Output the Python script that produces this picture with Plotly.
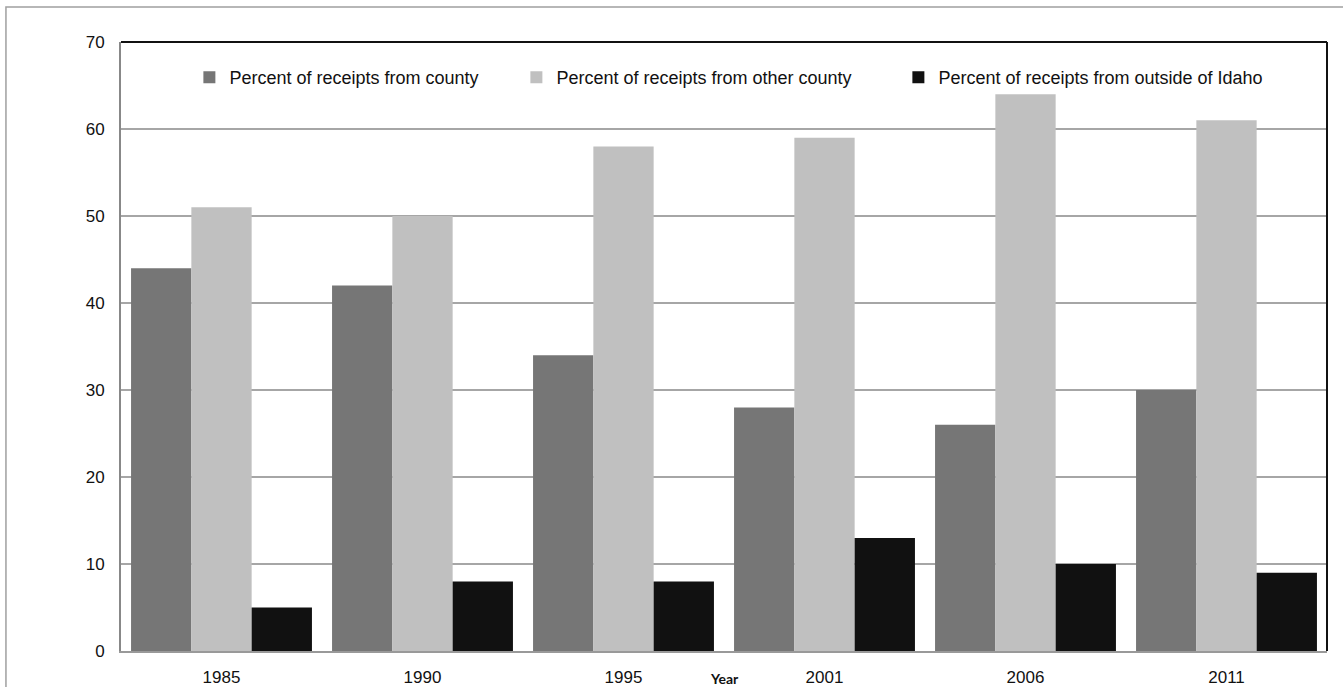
import plotly.graph_objects as go

years = ["1985", "1990", "1995", "2001", "2006", "2011"]
from_county = [44, 42, 34, 28, 26, 30]
from_other_county = [51, 50, 58, 59, 64, 61]
from_outside_idaho = [5, 8, 8, 13, 10, 9]

series_names = [
    "Percent of receipts from county",
    "Percent of receipts from other county",
    "Percent of receipts from outside of Idaho",
]
series_values = [from_county, from_other_county, from_outside_idaho]
series_colors = ["#767676", "#c0c0c0", "#111111"]
entry_widths = [282, 337, 345]

fig = go.Figure()
for name, vals, color, w in zip(series_names, series_values, series_colors, entry_widths):
    fig.add_trace(go.Bar(
        x=years, y=vals, name=name,
        marker=dict(color=color, line=dict(width=0)),
        legendwidth=w,
    ))

font_main = "Liberation Sans, Arial, sans-serif"

fig.update_layout(
    width=1343, height=687,
    margin=dict(l=121, r=16, t=42, b=36),
    paper_bgcolor="white", plot_bgcolor="white",
    barmode="group", bargap=0.1, bargroupgap=0,
    font=dict(family=font_main, size=17, color="#111111"),
    showlegend=True,
    legend=dict(
        orientation="h", x=0.0567, xanchor="left", y=0.972, yanchor="top",
        font=dict(family=font_main, size=18, color="#111111"),
        bgcolor="rgba(0,0,0,0)", borderwidth=0,
        itemwidth=30, traceorder="normal",
    ),
    xaxis=dict(
        showline=True, linecolor="#999999", linewidth=2,
        ticks="", ticklabelstandoff=10,
        tickfont=dict(size=17),
        showgrid=False, zeroline=False, automargin=False,
    ),
    yaxis=dict(
        range=[0, 70], dtick=10, tick0=0,
        showline=True, linecolor="#888888", linewidth=2,
        ticks="", ticklabelstandoff=11,
        tickfont=dict(size=17),
        showgrid=True, gridcolor="#a6a6a6", gridwidth=1.5,
        zeroline=False, automargin=False,
    ),
    annotations=[dict(
        text="<b>Year</b>", xref="paper", yref="paper", x=0.5, y=0,
        xanchor="center", yanchor="top", yshift=-17, showarrow=False,
        font=dict(family="Lato, Open Sans, sans-serif", size=14, color="#111111"),
    )],
    shapes=[
        # outer frame of the chart
        dict(type="rect", xref="paper", yref="paper",
             x0=-0.0954, x1=1.3, y0=-0.4, y1=1.0575,
             line=dict(color="#a0a0a0", width=1.5), layer="below"),
        # dark top and right edges of the plot area
        dict(type="line", xref="paper", yref="paper", x0=0, x1=1, y0=1, y1=1,
             line=dict(color="#111111", width=2)),
        dict(type="line", xref="paper", yref="paper", x0=1, x1=1, y0=0, y1=1,
             line=dict(color="#111111", width=2)),
    ],
)

fig.write_html("out.html")
